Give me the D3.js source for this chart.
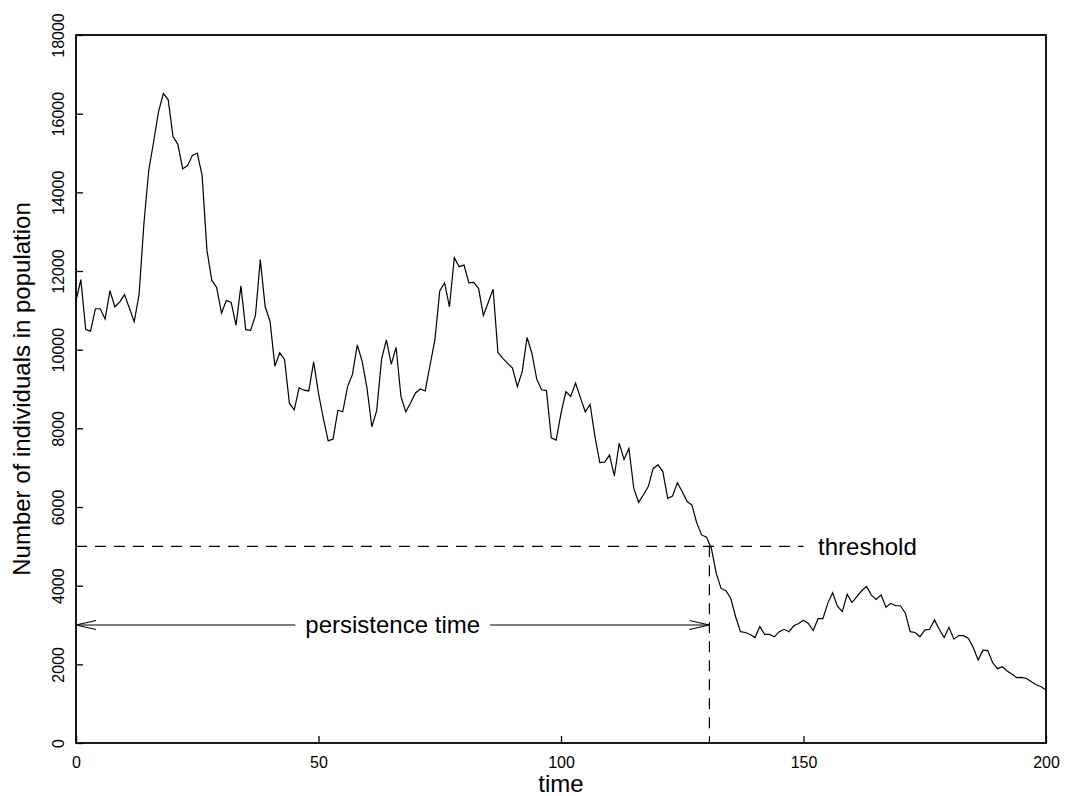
<!DOCTYPE html>
<html>
<head>
<meta charset="utf-8">
<script src="https://cdn.jsdelivr.net/npm/d3@7"></script>
<style>
  body { margin: 0; background: #fff; }
  svg { display: block; font-family: 'Liberation Sans', Arial, Helvetica, sans-serif; }
</style>
</head>
<body>
<svg id="chart" width="1066" height="796"></svg>
<script>
// population size at each time step 0..200
const population = [
  11250, 11780, 10510, 10470, 11040, 11040, 10780, 11500, 11090, 11210,
  11400, 11060, 10710, 11400, 13200, 14560, 15280, 16040, 16510, 16360,
  15420, 15220, 14600, 14680, 14940, 15000, 14430, 12530, 11760, 11580,
  10930, 11250, 11200, 10620, 11620, 10510, 10490, 10870, 12290, 11090,
  10730, 9580, 9920, 9750, 8640, 8470, 9030, 8970, 8950, 9690,
  8890, 8250, 7680, 7730, 8460, 8420, 9060, 9370, 10120, 9700,
  9020, 8040, 8450, 9760, 10250, 9630, 10060, 8810, 8420, 8650,
  8900, 9000, 8950, 9610, 10250, 11490, 11700, 11090, 12340, 12110,
  12150, 11700, 11710, 11560, 10870, 11200, 11540, 9930, 9780, 9650,
  9530, 9060, 9440, 10310, 9910, 9250, 8980, 8960, 7760, 7700,
  8380, 8930, 8810, 9150, 8780, 8420, 8610, 7790, 7130, 7140,
  7320, 6790, 7620, 7210, 7490, 6480, 6120, 6310, 6520, 6980,
  7070, 6900, 6220, 6280, 6620, 6390, 6140, 6050, 5590, 5290,
  5230, 4950, 4320, 3930, 3870, 3680, 3210, 2830, 2810, 2760,
  2680, 2960, 2760, 2760, 2700, 2830, 2890, 2830, 2980, 3040,
  3120, 3040, 2860, 3160, 3160, 3550, 3820, 3480, 3340, 3780,
  3570, 3720, 3870, 3980, 3760, 3650, 3760, 3450, 3550, 3490,
  3490, 3300, 2830, 2810, 2700, 2870, 2890, 3130, 2890, 2680,
  2940, 2640, 2730, 2730, 2660, 2430, 2110, 2360, 2350, 2040,
  1890, 1940, 1830, 1750, 1660, 1670, 1640, 1560, 1480, 1430,
  1350
]

const xTicks = [0, 50, 100, 150, 200]
const yTicks = [0, 2000, 4000, 6000, 8000, 10000, 12000, 14000, 16000, 18000]

const threshold = 5000
const thresholdEnd = 150
const thresholdLabelAt = 153
const persistenceTime = 130.6
const arrowLevel = 3000

const svg = d3.select('#chart')
const pLeft = 76, pRight = 1046, pTop = 35, pBottom = 743

const x = d3.scaleLinear().domain([0, 200]).range([pLeft, pRight])
const y = d3.scaleLinear().domain([0, 18000]).range([pBottom, pTop])

svg.append('rect').attr('width', 1066).attr('height', 796).attr('fill', '#fff')

// axes, ticks pointing inward like the original
const xAxis = svg.append('g')
  .attr('transform', `translate(0, ${pBottom})`)
  .call(d3.axisBottom(x).tickValues(xTicks).tickSizeInner(-7).tickSizeOuter(0).tickPadding(14).tickFormat(d3.format('d')))
xAxis.select('.domain').remove()
xAxis.selectAll('line').attr('stroke', '#000').attr('stroke-width', 1.3)
xAxis.selectAll('text').attr('font-size', 16).attr('fill', '#000')
xAxis.attr('font-family', null)

const yAxis = svg.append('g')
  .attr('transform', `translate(${pLeft}, 0)`)
  .call(d3.axisLeft(y).tickValues(yTicks).tickSizeInner(-7).tickSizeOuter(0).tickFormat(d3.format('d')))
yAxis.select('.domain').remove()
yAxis.attr('font-family', null)
yAxis.selectAll('line').attr('stroke', '#000').attr('stroke-width', 1.3)
yAxis.selectAll('text')
  .attr('font-size', 16).attr('fill', '#000')
  .attr('transform', 'rotate(-90)')
  .attr('x', 0).attr('y', -12).attr('dy', 0)
  .attr('text-anchor', 'middle')

// frame
svg.append('rect')
  .attr('x', pLeft).attr('y', pTop)
  .attr('width', pRight - pLeft).attr('height', pBottom - pTop)
  .attr('fill', 'none').attr('stroke', '#000').attr('stroke-width', 1.8)

// data line
const line = d3.line().x((d, i) => x(i)).y(d => y(d))
svg.append('path')
  .datum(population)
  .attr('d', line)
  .attr('fill', 'none')
  .attr('stroke', '#000')
  .attr('stroke-width', 1.2)

// threshold
svg.append('line')
  .attr('x1', x(0)).attr('x2', x(thresholdEnd))
  .attr('y1', y(threshold)).attr('y2', y(threshold))
  .attr('stroke', '#000').attr('stroke-width', 1.2)
  .attr('stroke-dasharray', '11,8')

svg.append('line')
  .attr('x1', x(persistenceTime)).attr('x2', x(persistenceTime))
  .attr('y1', y(threshold)).attr('y2', y(0))
  .attr('stroke', '#000').attr('stroke-width', 1.2)
  .attr('stroke-dasharray', '11,8')

svg.append('text')
  .attr('x', x(thresholdLabelAt)).attr('y', y(threshold))
  .attr('dy', '0.35em')
  .attr('font-size', 24)
  .text('threshold')

// persistence time arrow
const ay = y(arrowLevel)
svg.append('line')
  .attr('x1', x(0)).attr('x2', x(persistenceTime))
  .attr('y1', ay).attr('y2', ay)
  .attr('stroke', '#000').attr('stroke-width', 1.2)

const head = (x0, dir) => `M${x0 + dir * 20},${ay - 4.5}L${x0},${ay}L${x0 + dir * 20},${ay + 4.5}`
svg.append('path').attr('d', head(x(0), 1)).attr('fill', 'none').attr('stroke', '#000').attr('stroke-width', 1.2)
svg.append('path').attr('d', head(x(persistenceTime), -1)).attr('fill', 'none').attr('stroke', '#000').attr('stroke-width', 1.2)

const gap = svg.append('rect').attr('fill', '#fff')
const label = svg.append('text')
  .attr('x', x(persistenceTime / 2)).attr('y', ay)
  .attr('dy', '0.35em')
  .attr('text-anchor', 'middle')
  .attr('font-size', 24)
  .text('persistence time')
const bb = label.node().getBBox()
gap.attr('x', bb.x - 10).attr('y', bb.y)
  .attr('width', bb.width + 20).attr('height', bb.height)

// axis titles
svg.append('text')
  .attr('x', (pLeft + pRight) / 2).attr('y', 792)
  .attr('text-anchor', 'middle')
  .attr('font-size', 24)
  .text('time')

svg.append('text')
  .attr('transform', `translate(30, ${(pTop + pBottom) / 2}) rotate(-90)`)
  .attr('text-anchor', 'middle')
  .attr('font-size', 24)
  .text('Number of individuals in population')
</script>
</body>
</html>
